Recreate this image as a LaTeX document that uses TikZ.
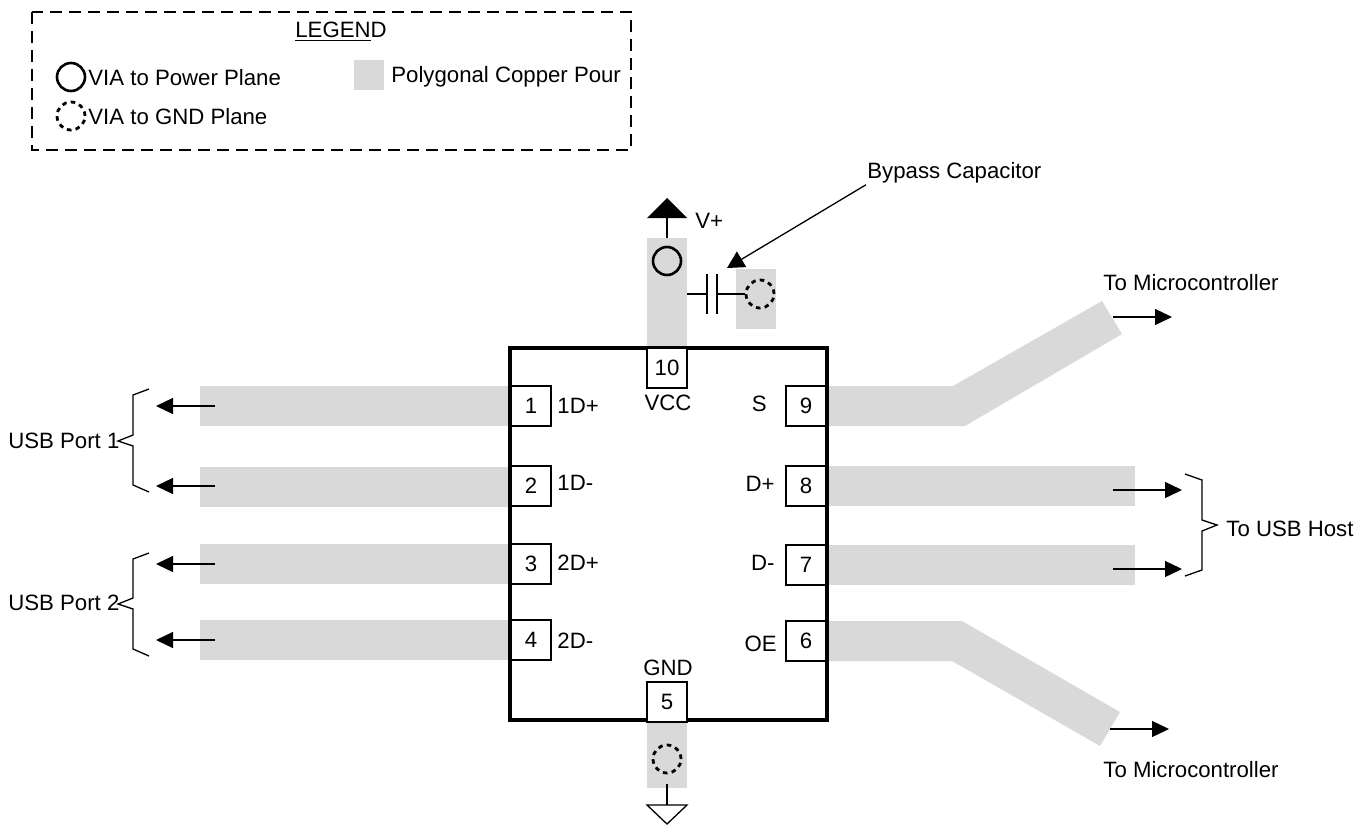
\documentclass[tikz,border=0pt]{standalone}
\usepackage{fontspec}
\setmainfont{Liberation Sans}
\usetikzlibrary{arrows.meta}
\definecolor{pourgray}{HTML}{D9D9D9}
\def\pin#1#2#3{\node[pinbox] (pin#1) at (#2,#3) {#1};}
\def\pour#1#2#3#4{\fill[pourgray] (#1,#2) rectangle (#3,#4);}
\def\lab#1#2#3#4{\node[txt,anchor=#3] (#1) at (#2) {#4};}
\def\flow#1#2#3#4{\coordinate (#1a) at (#2,#4); \coordinate (#1b) at (#3,#4); \draw[thin line,-{Triangle[length=8.5pt,width=8pt]}] (#1a) -- (#1b);}
\begin{document}
\begin{tikzpicture}[x=0.5pt,y=-0.5pt,
    thin line/.style={line width=0.65pt},
    txt/.style={inner sep=0pt,font=\fontsize{11.1}{13}\selectfont},
    pinbox/.style={draw=black,line width=0.65pt,fill=white,minimum size=20pt,inner sep=0pt,font=\fontsize{11.1}{13}\selectfont},
    viap/.style={circle,draw=black,line width=1.3pt,minimum size=14pt,inner sep=0pt},
    viag/.style={viap,line width=1.4pt,dash pattern=on 2.3pt off 2.1pt},
    ]
    \useasboundingbox (0,0) rectangle (1369,825);
    % legend
    \draw[thin line,dash pattern=on 6pt off 3.5pt] (32,12) rectangle (631,150);
    \lab{legend}{295,32}{west}{\underline{LEGEN}D}
    \node[viap] (legp) at (71,77) {};
    \node[viag] (legg) at (71,116) {};
    \lab{legpt}{88,78}{west}{VIA to Power Plane}
    \lab{leggt}{88,117}{west}{VIA to GND Plane}
    \pour{354}{60}{384}{90}
    \lab{legcu}{391,77}{west}{Polygonal Copper Pour}
    % copper
    \pour{200}{386}{510}{426}
    \pour{200}{467}{510}{507}
    \pour{200}{544}{510}{584}
    \pour{200}{620}{510}{660}
    \pour{827}{466}{1135}{506}
    \pour{827}{545}{1135}{585}
    \pour{647}{238}{687}{348}
    \pour{736}{269}{776}{329}
    \pour{647}{721}{687}{788}
    \fill[pourgray] (827,386) -- (953,386) -- (1102,301) -- (1122,334) -- (965,426) -- (827,426) -- cycle;
    \fill[pourgray] (827,621) -- (962,621) -- (1120,712) -- (1100,746) -- (952,661) -- (827,661) -- cycle;
    % device
    \draw[line width=1.8pt] (510,348) rectangle (827,720);
    \pin{1}{531}{406}
    \pin{2}{531}{486}
    \pin{3}{531}{564}
    \pin{4}{531}{640}
    \pin{9}{806}{406}
    \pin{8}{806}{486}
    \pin{7}{806}{565}
    \pin{6}{806}{641}
    \pin{10}{667}{368}
    \pin{5}{667}{702}
    \lab{l1}{557,406}{west}{1D+}
    \lab{l2}{557,483}{west}{1D-}
    \lab{l3}{557,563}{west}{2D+}
    \lab{l4}{557,641}{west}{2D-}
    \lab{l9}{767,404}{east}{S}
    \lab{l8}{775,484}{east}{D+}
    \lab{l7}{775,563}{east}{D-}
    \lab{l6}{777,644}{east}{OE}
    \lab{l10}{668,403}{center}{VCC}
    \lab{l5}{668,668}{center}{GND}
    % supply and bypass
    \node[viap] (viav) at (667,261) {};
    \node[viag] (viacap) at (760,294) {};
    \node[viag] (viagnd) at (667,759) {};
    \coordinate (vtop) at (667,238);
    \coordinate (vbar) at (667,215);
    \draw[thin line] (vtop) -- (vbar);
    \fill (647,218) -- (687,218) -- (667,198) -- cycle;
    \lab{vplus}{695,221}{west}{V+}
    \coordinate (capa) at (687,294);
    \coordinate (capb) at (707,294);
    \coordinate (capc) at (717,294);
    \draw[thin line] (capa) -- (capb) (capc) -- (viacap.west);
    \draw[thin line] (707,274) -- (707,314) (717,274) -- (717,314);
    \lab{bypass}{867,173}{west}{Bypass Capacitor}
    \coordinate (bytip) at (727,268);
    \draw[thin line,-{Triangle[length=8.5pt,width=9pt]}] (bypass.south west) ++(-1,1) -- (bytip);
    \coordinate (gtop) at (667,784);
    \coordinate (gbar) at (667,805);
    \draw[thin line] (gtop) -- (gbar);
    \draw[thin line] (647,805) -- (687,805) -- (667,824) -- cycle;
    % ports
    \flow{a1}{215}{156}{406}
    \flow{a2}{215}{156}{486}
    \flow{a3}{215}{156}{564}
    \flow{a4}{215}{156}{640}
    \flow{a8}{1113}{1182}{490}
    \flow{a7}{1113}{1182}{569}
    \flow{a9}{1113}{1172}{317}
    \flow{a6}{1110}{1169}{729}
    \draw[thin line] (149,389) -- (133,395) -- (133,435) -- (118,441) -- (133,446) -- (133,485) -- (149,492);
    \draw[thin line] (149,553) -- (133,559) -- (133,598) -- (118,604) -- (133,609) -- (133,649) -- (149,656);
    \draw[thin line] (1185,474) -- (1202,480) -- (1202,520) -- (1217,525) -- (1202,531) -- (1202,570) -- (1185,576);
    \lab{usb1}{8,441}{west}{USB Port 1}
    \lab{usb2}{8,603}{west}{USB Port 2}
    \lab{host}{1226,529}{west}{To USB Host}
    \lab{mcu1}{1103,283}{west}{To Microcontroller}
    \lab{mcu2}{1103,770}{west}{To Microcontroller}
\end{tikzpicture}
\end{document}
